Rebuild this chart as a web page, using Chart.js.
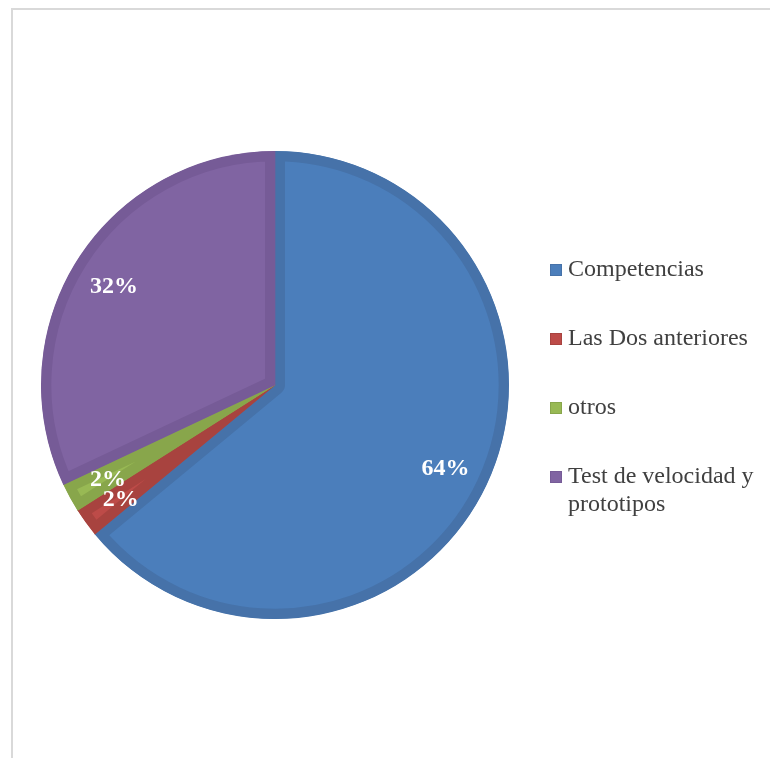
<!DOCTYPE html>
<html>
<head>
<meta charset="utf-8">
<script src="https://cdn.jsdelivr.net/npm/chart.js@4.4.1/dist/chart.umd.min.js"></script>
<style>
  html, body { margin: 0; padding: 0; background: #fff; }
  .wrap { position: relative; width: 770px; height: 758px; overflow: hidden; }
  .frame { position: absolute; left: 11px; top: 8px; width: 800px; height: 800px;
           border-left: 2px solid #d9d9d9; border-top: 2px solid #d9d9d9; }
  canvas { position: absolute; left: 0; top: 0; }
</style>
</head>
<body>
<div class="wrap">
  <div class="frame"></div>
  <canvas id="pieChart" width="770" height="758"></canvas>
</div>
<script>
const categories = ["Competencias", "Las Dos anteriores", "otros", "Test de velocidad y prototipos"];
const percentages = [64, 2, 2, 32];
const fillColors = ["#4b7ebb", "#bd4b48", "#98b954", "#8064a2"];
const edgeColors = ["#4672a9", "#a8433f", "#88a64b", "#765b97"];

// percentage text inside each slice, pushed out along the mid angle
const sliceLabels = {
  id: "sliceLabels",
  afterDatasetsDraw(chart) {
    const ctx = chart.ctx;
    const arcs = chart.getDatasetMeta(0).data;
    ctx.save();
    ctx.font = "bold 24px 'Liberation Serif', 'Times New Roman', serif";
    ctx.fillStyle = "#ffffff";
    ctx.textAlign = "center";
    ctx.textBaseline = "middle";
    arcs.forEach((arc, i) => {
      const p = arc.getProps(["x", "y", "startAngle", "endAngle", "outerRadius"], true);
      const mid = (p.startAngle + p.endAngle) / 2;
      const r = p.outerRadius * 0.81;
      ctx.fillText(percentages[i] + "%", p.x + Math.cos(mid) * r - 1, p.y + Math.sin(mid) * r + 3);
    });
    ctx.restore();
  }
};

// legend on the right, with word wrap for long names
const sideLegend = {
  id: "sideLegend",
  afterDraw(chart, args, opts) {
    const ctx = chart.ctx;
    ctx.save();
    ctx.font = "24px 'Liberation Serif', 'Times New Roman', serif";
    ctx.textBaseline = "middle";
    ctx.textAlign = "left";
    let y = opts.top;
    categories.forEach((name, i) => {
      ctx.fillStyle = fillColors[i];
      ctx.fillRect(opts.left, y - 6, 12, 12);
      ctx.strokeStyle = edgeColors[i];
      ctx.lineWidth = 1;
      ctx.strokeRect(opts.left + 0.5, y - 5.5, 11, 11);
      // wrap words into lines
      const words = name.split(" ");
      const lines = [];
      let line = "";
      words.forEach(w => {
        const test = line ? line + " " + w : w;
        if (ctx.measureText(test).width > opts.maxWidth && line) {
          lines.push(line);
          line = w;
        } else {
          line = test;
        }
      });
      lines.push(line);
      ctx.fillStyle = "#404040";
      lines.forEach((l, k) => ctx.fillText(l, opts.left + 18, y + k * opts.lineHeight));
      y += opts.rowGap;
    });
    ctx.restore();
  }
};

new Chart(document.getElementById("pieChart").getContext("2d"), {
  type: "pie",
  data: {
    labels: categories,
    datasets: [{
      data: percentages,
      backgroundColor: fillColors,
      borderColor: edgeColors,
      borderWidth: 10,
      borderAlign: "inner",
      hoverOffset: 0
    }]
  },
  options: {
    responsive: false,
    animation: false,
    layout: { padding: { left: 41, top: 151, right: 261, bottom: 139 } },
    plugins: {
      legend: { display: false },
      tooltip: { enabled: false },
      sideLegend: { left: 550, top: 270, rowGap: 69, lineHeight: 28, maxWidth: 198 }
    }
  },
  plugins: [sliceLabels, sideLegend]
});
</script>
</body>
</html>
